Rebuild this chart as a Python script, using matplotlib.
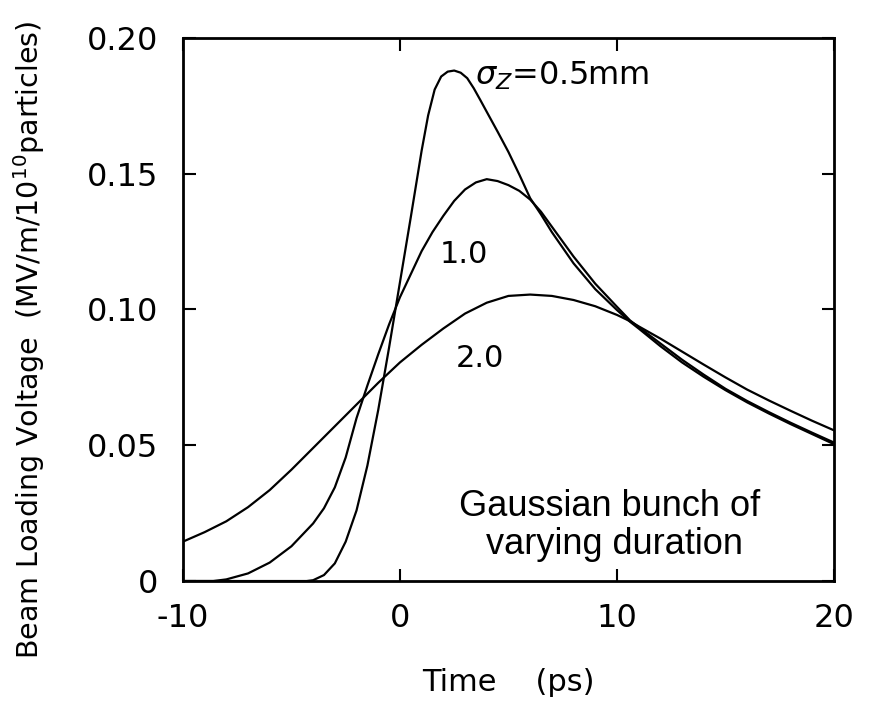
import numpy as np
import matplotlib
matplotlib.use("Agg")
import matplotlib.pyplot as plt

# values (time in ps, voltage in MV/m/1e10 particles)
t_05 = [-10, -4.3, -4.0, -3.5, -3.0, -2.5, -2.0, -1.5, -1.0, -0.5, 0.0, 0.5,
        1.0, 1.3, 1.6, 1.9, 2.2, 2.5, 2.8, 3.1, 3.4, 3.7, 4.0, 4.5, 5.0, 5.5,
        6.0, 6.5, 7.0, 8.0, 9.0, 10.0, 10.6, 11.0, 12.0, 13.0, 14.0, 15.0,
        16.0, 17.0, 18.0, 19.0, 20.0]
v_05 = [0, 0, 0.0003, 0.0022, 0.0065, 0.0145, 0.026, 0.0425, 0.063, 0.086,
        0.110, 0.134, 0.1585, 0.1715, 0.181, 0.1858, 0.1876, 0.188, 0.1872,
        0.1852, 0.1815, 0.1772, 0.1728, 0.1655, 0.158, 0.1497, 0.141, 0.135,
        0.1285, 0.117, 0.1075, 0.0998, 0.0955, 0.093, 0.0865, 0.0805, 0.0752,
        0.0703, 0.0658, 0.0617, 0.0578, 0.0541, 0.0504]

t_10 = [-10, -8.6, -8.0, -7.0, -6.0, -5.0, -4.0, -3.5, -3.0, -2.5, -2.0, -1.5,
        -1.0, -0.5, 0.0, 0.5, 1.0, 1.5, 2.0, 2.5, 3.0, 3.5, 4.0, 4.5, 5.0,
        5.5, 6.0, 6.5, 7.0, 8.0, 9.0, 10.0, 10.6, 11.0, 12.0, 13.0, 14.0,
        15.0, 16.0, 17.0, 18.0, 19.0, 20.0]
v_10 = [0, 0, 0.0006, 0.0028, 0.0068, 0.0128, 0.0212, 0.0268, 0.0345, 0.0455,
        0.060, 0.072, 0.0835, 0.0945, 0.1045, 0.113, 0.1215, 0.1285, 0.1345,
        0.140, 0.1442, 0.1468, 0.148, 0.1473, 0.1458, 0.1437, 0.1405, 0.136,
        0.1305, 0.1195, 0.1095, 0.101, 0.096, 0.0935, 0.0875, 0.0815, 0.076,
        0.0708, 0.0663, 0.0622, 0.0583, 0.0546, 0.051]

t_20 = [-10, -9, -8, -7, -6, -5, -4, -3, -2, -1, 0, 1, 2, 3, 4, 5, 6, 7, 8,
        9, 10, 10.6, 11, 12, 13, 14, 15, 16, 17, 18, 19, 20]
v_20 = [0.0145, 0.018, 0.022, 0.0272, 0.0335, 0.041, 0.049, 0.057, 0.065,
        0.073, 0.0805, 0.087, 0.093, 0.0985, 0.1025, 0.105, 0.1055, 0.105,
        0.1035, 0.1012, 0.098, 0.0957, 0.0938, 0.0893, 0.0845, 0.0797, 0.075,
        0.0705, 0.0665, 0.0627, 0.059, 0.0555]

x_ticks = [-10, 0, 10, 20]
y_ticks = [0, 0.05, 0.10, 0.15, 0.20]
y_tick_labels = ["0", "0.05", "0.10", "0.15", "0.20"]

plt.rcParams['font.family'] = ['DejaVu Sans']

fig = plt.figure(figsize=(8.71, 7.11), dpi=100)
ax = fig.add_axes([0.210, 0.1828, 0.7475, 0.7638])

ax.plot(t_05, v_05, color='black', lw=1.6)
ax.plot(t_10, v_10, color='black', lw=1.6)
ax.plot(t_20, v_20, color='black', lw=1.6)

ax.set_xlim(-10, 20)
ax.set_ylim(0, 0.20)
ax.set_xticks(x_ticks)
ax.set_xticklabels([str(v) for v in x_ticks])
ax.set_yticks(y_ticks)
ax.set_yticklabels(y_tick_labels)
ax.tick_params(direction='in', length=9, width=1.5, top=True, right=True,
               labelsize=23)
ax.tick_params(axis='y', pad=18)
ax.tick_params(axis='x', pad=16)
for s in ax.spines.values():
    s.set_linewidth(2)

ax.set_xlabel('Time    (ps)', fontsize=22, labelpad=24)
ax.set_ylabel(r'Beam Loading Voltage  (MV/m/10$^{10}$particles)', fontsize=20.5)
ax.yaxis.set_label_coords(-0.208, 0.444)

ax.text(3.45, 0.1827, r'$\sigma_Z$=0.5mm', fontsize=23, ha='left', va='baseline')
ax.text(1.85, 0.117, '1.0', fontsize=22, ha='left', va='baseline')
ax.text(2.55, 0.079, '2.0', fontsize=22, ha='left', va='baseline')
ax.text(9.65, 0.0205, 'Gaussian bunch of\n varying duration', fontsize=26,
        family='Liberation Sans', ha='center', va='center', linespacing=1.12)

fig.savefig('out.png', dpi=100)
